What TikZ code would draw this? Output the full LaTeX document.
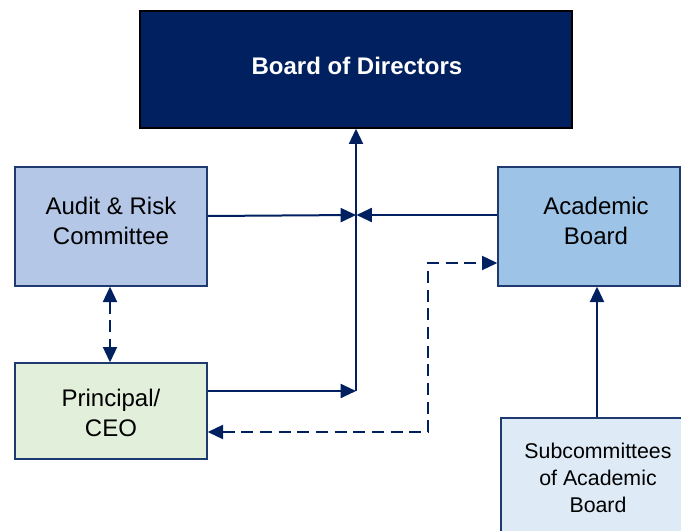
\documentclass[tikz,border=0pt]{standalone}
\usepackage{fontspec}
\setmainfont{Liberation Sans}
\usetikzlibrary{arrows.meta}
\definecolor{navy}{HTML}{002060}
\definecolor{lnav}{HTML}{1F3A6E}
\definecolor{auditc}{HTML}{B4C7E7}
\definecolor{acadc}{HTML}{9DC3E6}
\definecolor{princ}{HTML}{E2EFDA}
\definecolor{subc}{HTML}{DEEBF7}
\tikzset{
  box/.style={draw=lnav, line width=1pt, inner sep=0pt},
  lbl/.style={align=center, inner sep=0pt, font=\fontsize{18}{22.5}\selectfont},
  conn/.style={draw=navy, line width=1.5pt, -{Triangle[length=11.5pt,width=10.5pt]}},
  dconn/.style={conn, dash pattern=on 9pt off 5pt},
}
\begin{document}
\begin{tikzpicture}[x=0.75pt,y=-0.75pt]
\useasboundingbox (0,0) rectangle (681,531);
\clip (0,0) rectangle (681,531);
\node[box, draw=black, fill=navy, minimum width=432*0.75pt, minimum height=117*0.75pt] (board) at (356,69.5) {};
\node[lbl, text=white, font=\fontsize{18}{22.5}\selectfont\bfseries] (boardt) at (357,66) {Board of Directors};
\node[box, fill=auditc, minimum width=192*0.75pt, minimum height=119*0.75pt] (audit) at (111,226.5) {};
\node[lbl] (auditt) at (111,221) {Audit \& Risk\\Committee};
\node[box, fill=acadc, minimum width=182*0.75pt, minimum height=119*0.75pt] (acad) at (589,226.5) {};
\node[lbl] (acadt) at (596,221) {Academic\\Board};
\node[box, fill=princ, minimum width=192*0.75pt, minimum height=96*0.75pt] (prin) at (111,411) {};
\node[lbl] (print) at (111,413) {Principal/\\CEO};
\node[box, fill=subc, minimum width=190*0.75pt, minimum height=130*0.75pt] (sub) at (596,483) {};
\node[lbl, font=\fontsize{16}{20}\selectfont] (subt) at (598,478) {Subcommittees\\of Academic\\Board};
\coordinate (jtop) at (356,391);
\coordinate (jmid) at (356,215);
\coordinate (d1) at (428,432);
\coordinate (d2) at (428,263);
\draw[conn] (jtop) -- (board.south);
\draw[conn] (prin.east |- jtop) -- (jtop);
\draw[conn] (audit.east |- 0,216) -- (jmid);
\draw[conn] (acad.west |- jmid) -- (356.5,215);
\draw[dconn, {Triangle[length=11.5pt,width=10.5pt]}-{Triangle[length=11.5pt,width=10.5pt]}] (prin.east |- d1) -- (d1) -- (d2) -- (acad.west |- d2);
\draw[dconn, {Triangle[length=11.5pt,width=10.5pt]}-{Triangle[length=11.5pt,width=10.5pt]}] (audit.south -| 110,0) -- (prin.north -| 110,0);
\draw[conn] (sub.north -| 597,0) -- (acad.south -| 597,0);
\end{tikzpicture}
\end{document}
